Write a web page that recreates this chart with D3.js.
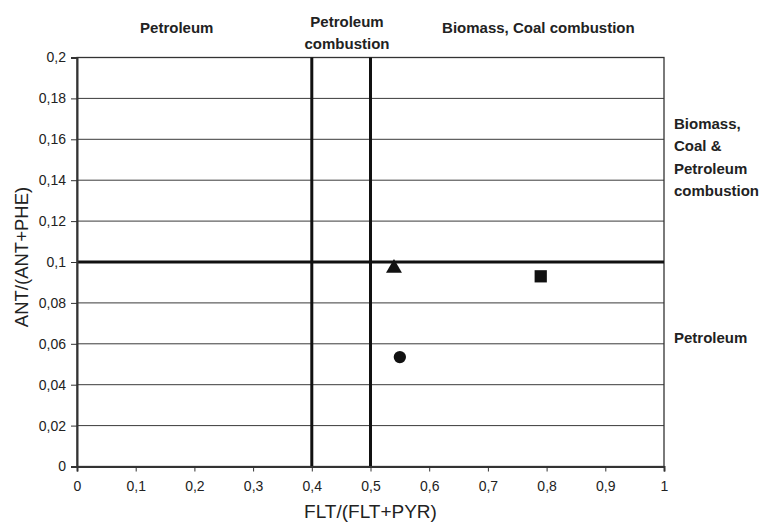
<!DOCTYPE html>
<html><head><meta charset="utf-8">
<script src="https://cdn.jsdelivr.net/npm/d3@7"></script>
<style>body{margin:0;background:#fff;} svg{font-family:"Liberation Sans",Arial,sans-serif;}</style>
</head><body>
<svg id="c" width="772" height="524"></svg>
<script>
const xTicks = [0,0.1,0.2,0.3,0.4,0.5,0.6,0.7,0.8,0.9,1];
const yTicks = [0,0.02,0.04,0.06,0.08,0.1,0.12,0.14,0.16,0.18,0.2];
const points = [
  {name:"triangle", x:0.54, y:0.097},
  {name:"square", x:0.79, y:0.093},
  {name:"circle", x:0.55, y:0.0535}
];
const vThresholds = [0.4, 0.5];
const hThresholds = [0.1];
const topLabels = [{lines:["Petroleum"], x:0.17}, {lines:["Petroleum","combustion"], x:0.46}, {lines:["Biomass, Coal combustion"], x:0.786}];
const rightLabels = [{lines:["Biomass,","Coal &","Petroleum","combustion"], y:0.165}, {lines:["Petroleum"], y:0.0605}];

const svg = d3.select("#c");
const m = {l:77, r:664, t:57.5, b:466.5};
const x = d3.scaleLinear().domain([0,1]).range([m.l, m.r]);
const y = d3.scaleLinear().domain([0,0.2]).range([m.b, m.t]);
const fmt = d => String(+d.toFixed(2)).replace(".", ",");
const FF = "Liberation Sans, Arial, sans-serif";

// gridlines
svg.append("g").selectAll("line").data(yTicks.filter(d=>d>0 && d<0.2 && !hThresholds.includes(d))).join("line")
  .attr("x1", m.l).attr("x2", m.r).attr("y1", d=>y(d)).attr("y2", d=>y(d))
  .attr("stroke", "#3a3a3a").attr("stroke-width", 1);

// frame
svg.append("rect").attr("x", m.l).attr("y", m.t).attr("width", m.r-m.l).attr("height", m.b-m.t)
  .attr("fill","none").attr("stroke","#333").attr("stroke-width",1.3);

// thresholds
svg.append("g").selectAll("line").data(vThresholds).join("line")
  .attr("x1", d=>x(d)).attr("x2", d=>x(d)).attr("y1", m.t).attr("y2", m.b)
  .attr("stroke","#111").attr("stroke-width",3);
svg.append("g").selectAll("line").data(hThresholds).join("line")
  .attr("x1", m.l).attr("x2", m.r).attr("y1", d=>y(d)).attr("y2", d=>y(d))
  .attr("stroke","#111").attr("stroke-width",3);

// axes
const xa = svg.append("g").attr("transform",`translate(0,${m.b})`)
  .call(d3.axisBottom(x).tickValues(xTicks).tickFormat(fmt).tickSize(5).tickPadding(10));
const ya = svg.append("g").attr("transform",`translate(${m.l},0)`)
  .call(d3.axisLeft(y).tickValues(yTicks).tickFormat(fmt).tickSize(6).tickPadding(5));
[xa,ya].forEach(a=>{
  a.select(".domain").attr("stroke","#333").attr("stroke-width",2);
  a.selectAll(".tick line").attr("stroke","#333");
  a.selectAll("text").attr("font-size",14).attr("fill","#222").attr("font-family",FF);
});

// axis titles
svg.append("text").attr("x", (m.l+m.r)/2).attr("y", 518).attr("text-anchor","middle")
  .attr("font-size",19).attr("fill","#222").text("FLT/(FLT+PYR)");
svg.append("text").attr("transform",`translate(28,${257}) rotate(-90)`).attr("text-anchor","middle")
  .attr("font-size",18.5).attr("fill","#222").text("ANT/(ANT+PHE)");

// markers
const sym = {triangle:d3.symbolTriangle, square:d3.symbolSquare, circle:d3.symbolCircle};
const size = {triangle:110, square:150, circle:120};
svg.append("g").selectAll("path").data(points).join("path")
  .attr("transform", d=>`translate(${x(d.x)},${y(d.y)})`)
  .attr("d", d=>d3.symbol(sym[d.name], size[d.name])())
  .attr("fill","#111");

// region labels
topLabels.forEach(L=>{
  const n = L.lines.length;
  const t = svg.append("text").attr("text-anchor","middle").attr("font-weight","bold").attr("font-size",15).attr("fill","#222");
  L.lines.forEach((s,i)=>{
    t.append("tspan").attr("x", x(L.x)).attr("y", (n===1?33:27) + i*21.5).text(s);
  });
});
rightLabels.forEach(L=>{
  const t = svg.append("text").attr("font-weight","bold").attr("font-size",15).attr("fill","#222");
  L.lines.forEach((s,i)=>{
    t.append("tspan").attr("x", 674).attr("y", y(L.y) + i*22.3).text(s);
  });
});
</script>
</body></html>
